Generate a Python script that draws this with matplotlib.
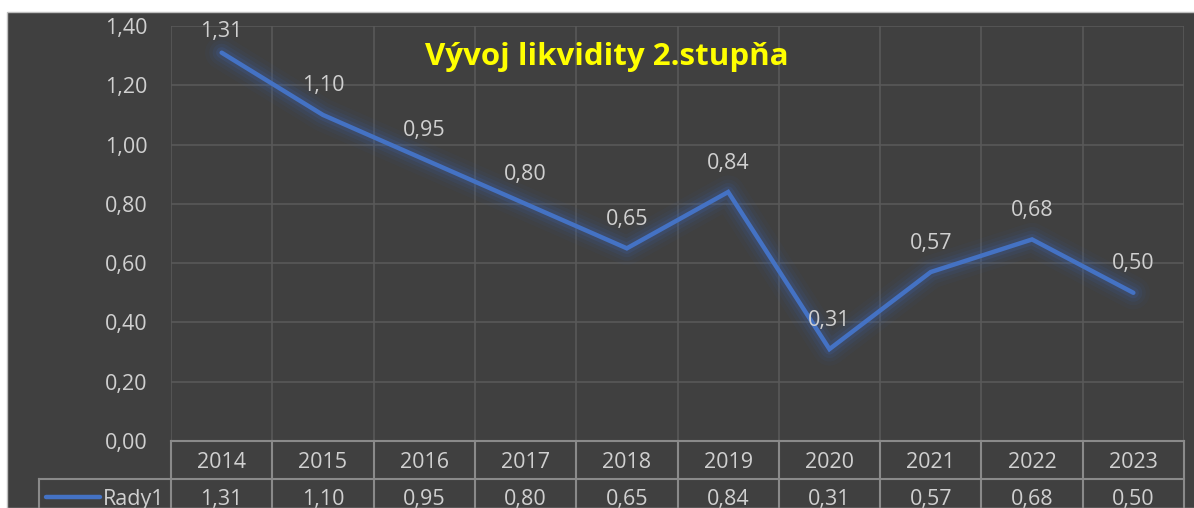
import numpy as np
import matplotlib
matplotlib.use("Agg")
import matplotlib.pyplot as plt
from matplotlib.patches import Rectangle
from matplotlib.ticker import FuncFormatter, MultipleLocator
from matplotlib.transforms import blended_transform_factory

years = ["2014", "2015", "2016", "2017", "2018", "2019", "2020", "2021", "2022", "2023"]
values = [1.31, 1.10, 0.95, 0.80, 0.65, 0.84, 0.31, 0.57, 0.68, 0.50]
series_name = "Rady1"
title = "Vývoj likvidity 2.stupňa"

plt.rcParams['font.family'] = ['Open Sans', 'DejaVu Sans']

W, H = 1194, 508
fig = plt.figure(figsize=(W / 100, H / 100), dpi=100)
fig.patch.set_facecolor("white")

bg = "#404040"
grid_c = "#595959"
table_c = "#8a8a8a"
text_c = "#d0d0d0"
line_c = "#4472c4"
fs = 15.5

def fmt(v):
    return f"{v:.2f}".replace(".", ",")

# dark chart panel (behind the axes)
fig.patches.append(Rectangle((7 / W, 0), 1, 1 - 12 / H, transform=fig.transFigure,
                             facecolor=bg, edgecolor="#bfbfbf", linewidth=1, zorder=-5))

left, right, top, bottom = 171, 1184, 26, 441
ph = bottom - top
ax = fig.add_axes([left / W, 1 - bottom / H, (right - left) / W, ph / H])
ax.set_facecolor(bg)
ax.set_xlim(-0.5, len(years) - 0.5)
ax.set_ylim(0, 1.4)
ax.yaxis.set_major_locator(MultipleLocator(0.2))
ax.yaxis.set_major_formatter(FuncFormatter(lambda v, p: fmt(v)))
ax.tick_params(axis="y", length=0, pad=17, labelsize=fs, labelcolor=text_c)
ax.set_xticks([])
for s in ax.spines.values():
    s.set_visible(False)

# grid
for yv in np.arange(0.2, 1.41, 0.2):
    ax.axhline(yv, color=grid_c, linewidth=1.2, zorder=1)
for i in range(len(years) + 1):
    ax.axvline(i - 0.5, color=grid_c, linewidth=1.2, zorder=1)

x = np.arange(len(years))
# soft blue glow around the line
for lw, a in [(24, 0.05), (18, 0.08), (13, 0.12), (8, 0.2)]:
    ax.plot(x, values, color="#3d62a8", linewidth=lw, alpha=a, solid_capstyle="round",
            solid_joinstyle="round", zorder=2)
ax.plot(x, values, color=line_c, linewidth=3.2, solid_capstyle="round",
        solid_joinstyle="miter", zorder=3)

# data labels above points, kept inside the chart at the top
for xi, v in zip(x, values):
    py = top + (1.4 - v) / 1.4 * ph
    off = min(29, py - 31)
    ax.annotate(fmt(v), (xi, v), xytext=(0, off), textcoords="offset pixels",
                ha="center", va="center", fontsize=fs, color=text_c, zorder=4)

ax.text(0.43, 0.925, title, transform=ax.transAxes, ha="center", va="center",
        fontsize=22.5, fontweight="bold", color="#ffff00", zorder=5)

# data table below the axis
tr = blended_transform_factory(ax.transData, ax.transAxes)
y_top = 0.0
y_mid = -(479 - bottom) / ph
y_bot = -(520 - bottom) / ph
cat_w = (right - left) / len(years)
x_leg = -0.5 - (left - 39) / cat_w
kw = dict(transform=tr, clip_on=False, color=table_c, linewidth=1.5, zorder=5)
ax.plot([-0.5, len(years) - 0.5], [y_top, y_top], **kw)
ax.plot([x_leg, len(years) - 0.5], [y_mid, y_mid], **kw)
ax.plot([x_leg, x_leg], [y_mid, y_bot], **kw)
for i in range(len(years) + 1):
    ax.plot([i - 0.5, i - 0.5], [y_top, y_bot], **kw)

y_row1 = -(462 - bottom) / ph
y_row2 = -(499 - bottom) / ph
for xi, yr, v in zip(x, years, values):
    ax.text(xi, y_row1, yr, transform=tr, ha="center", va="center",
            fontsize=fs, color=text_c, clip_on=False)
    ax.text(xi, y_row2, fmt(v), transform=tr,
            ha="center", va="center", fontsize=fs, color=text_c, clip_on=False)

lx0 = -0.5 - (left - 46) / cat_w
lx1 = -0.5 - (left - 100) / cat_w
ax.plot([lx0, lx1], [-(497 - bottom) / ph] * 2, transform=tr, clip_on=False,
        color=line_c, linewidth=3.2, solid_capstyle="round")
ax.text(-0.5 - (left - 103) / cat_w, y_row2, series_name, transform=tr,
        ha="left", va="center", fontsize=fs, color=text_c, clip_on=False)

fig.savefig("out.png", dpi=100, facecolor=fig.get_facecolor())
